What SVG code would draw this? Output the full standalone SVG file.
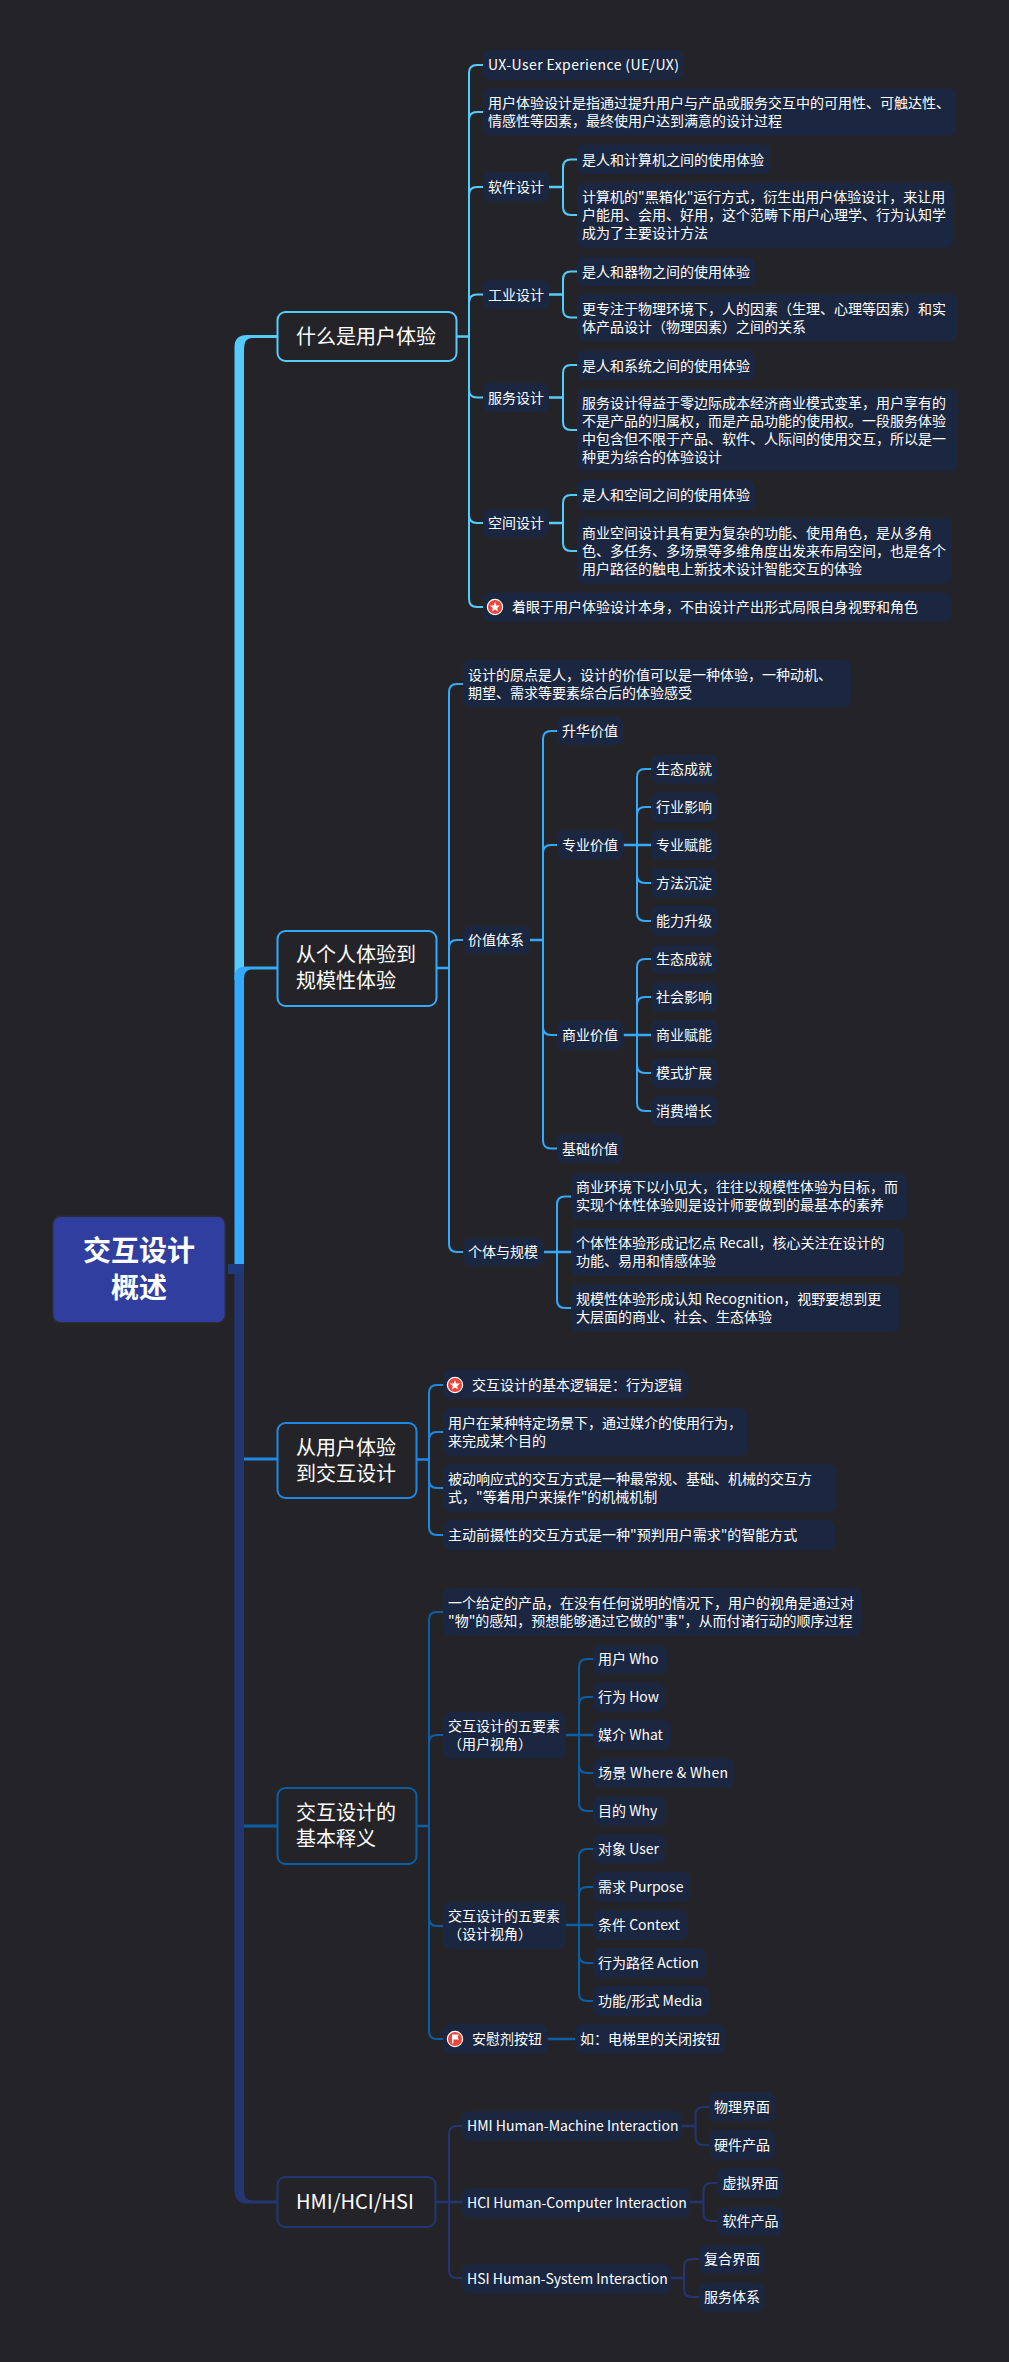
<svg xmlns="http://www.w3.org/2000/svg" width="1009" height="2362" viewBox="0 0 1009 2362">
<style>
text{font-family:"Noto Sans CJK SC","Noto Sans",sans-serif;fill:#fff}
.t{font-size:14px}
.m{font-size:20px}
.r{font-size:28px;font-weight:700;text-anchor:middle}
.n{fill:#1b2740}
.c{fill:none;stroke-width:2;stroke-linecap:butt}
.s{fill:none;stroke-width:2.5}
.b1{stroke:#55ccff}.b2{stroke:#33a9ff}.b3{stroke:#1e88e5}.b4{stroke:#0a5ea5}.b5{stroke:#233672}
.k{fill:#242428;stroke-width:2}
</style>
<defs>
<g id="star"><circle r="7.6" fill="#f04438" stroke="#fff" stroke-width="1.2"/><polygon points="0,-5 1.4,-1.6 5,-1.4 2.2,0.9 3.1,4.4 0,2.5 -3.1,4.4 -2.2,0.9 -5,-1.4 -1.4,-1.6" fill="#fff"/></g>
<g id="flag"><circle r="7.6" fill="#f04438" stroke="#fff" stroke-width="1.2"/><path d="M-3-4.5H4L2.4-2 4 .5H-1.6V4.5H-3Z" fill="#fff"/></g>
</defs>
<rect width="1009" height="2362" fill="#242428"/>
<g id="connectors">
<path d="M234.5 1264V2190Q234.5 2203.5 247 2203.5H277V2200.5H252Q244 2200.5 244 2190V1264Z" fill="#233672"/>
<path d="M277 335H247Q234.5 335 234.5 347V980H244V349Q244 338 252 338H277Z" fill="#55ccff"/>
<path d="M277 966.5H246Q234.5 966.5 234.5 978V1264H244V978Q244 969.5 252 969.5H277Z" fill="#33a9ff"/>
<rect x="228" y="1264" width="15.5" height="10" fill="#1f3a7a"/>
<path d="M244 1457.5H277V1460.5H244Z" fill="#1e88e5"/>
<path d="M244 1824.5H277V1827.5H244Z" fill="#0a5ea5"/>
<path class="s b1" d="M456 336.5H469M549 187H563M549 294.5H563M549 397.5H563M549 523H563"/>
<path class="c b1" d="M483 65H477Q469 65 469 73V599Q469 607 477 607H483M469 120Q469 112 477 112H483M469 195Q469 187 477 187H483M469 302.500Q469 294.5 477 294.5H483M469 389.500Q469 397.5 477 397.5H483M469 515Q469 523 477 523H483"/>
<path class="c b1" d="M577 159.5H571Q563 159.5 563 167.5V207Q563 215 571 215H577"/>
<path class="c b1" d="M577 271.5H571Q563 271.5 563 279.5V309.5Q563 317.5 571 317.5H577"/>
<path class="c b1" d="M577 365H571Q563 365 563 373V422Q563 430 571 430H577"/>
<path class="c b1" d="M577 495H571Q563 495 563 503V543Q563 551 571 551H577"/>
<path class="s b2" d="M436 968H449M530 940H543M623.5 845H651M623.5 1035H651M544 1252H571"/>
<path class="c b2" d="M463 684H457Q449 684 449 692V1244Q449 1252 457 1252H463M449 948Q449 940 457 940H463"/>
<path class="c b2" d="M557 731H551Q543 731 543 739V1140.5Q543 1148.5 551 1148.5H557M543 853Q543 845 551 845H557M543 1027Q543 1035 551 1035H557"/>
<path class="c b2" d="M651 769H645Q637 769 637 777V913Q637 921 645 921H651M637 815Q637 807 645 807H651M637 875Q637 883 645 883H651"/>
<path class="c b2" d="M651 959H645Q637 959 637 967V1103Q637 1111 645 1111H651M637 1005Q637 997 645 997H651M637 1065Q637 1073 645 1073H651"/>
<path class="c b2" d="M571 1196.5H565Q557 1196.5 557 1204.5V1300Q557 1308 565 1308H571"/>
<path class="s b3" d="M416 1459.5H429"/>
<path class="c b3" d="M443 1385H437Q429 1385 429 1393V1527Q429 1535 437 1535H443M429 1440Q429 1432 437 1432H443M429 1480Q429 1488 437 1488H443"/>
<path class="s b4" d="M416 1826H429M566 1735H593M566 1925H593M547.6 2039H575"/>
<path class="c b4" d="M443 1612H437Q429 1612 429 1620V2031Q429 2039 437 2039H443M429 1743Q429 1735 437 1735H443M429 1918Q429 1926 437 1926H443"/>
<path class="c b4" d="M593 1659H587Q579 1659 579 1667V1803Q579 1811 587 1811H593M579 1705Q579 1697 587 1697H593M579 1765Q579 1773 587 1773H593"/>
<path class="c b4" d="M593 1849H587Q579 1849 579 1857V1993Q579 2001 587 2001H593M579 1895Q579 1887 587 1887H593M579 1955Q579 1963 587 1963H593"/>
<path class="s b5" d="M435.6 2202H462M682 2126H695.6M690 2202H703.5M671 2278H684"/>
<path class="c b5" d="M462 2126H457Q449 2126 449 2134V2270Q449 2278 457 2278H462"/>
<path class="c b5" d="M709 2107H703.6Q695.6 2107 695.6 2115V2137Q695.6 2145 703.6 2145H709"/>
<path class="c b5" d="M717.5 2183H711.5Q703.5 2183 703.5 2191V2213Q703.5 2221 711.5 2221H717.5"/>
<path class="c b5" d="M699 2259H692Q684 2259 684 2267V2289Q684 2297 692 2297H699"/>
</g>
<g id="root"><rect x="53.5" y="1217" width="171" height="105" rx="7" fill="#303f9f" stroke="#2c2c31" stroke-width="3" paint-order="stroke"/><text class="r" x="139" y="1260.5">交互设计</text><text class="r" x="139" y="1297.5">概述</text></g>
<g id="b1-main"><rect class="k b1" x="277.5" y="312" width="179" height="49" rx="8"/><text class="m" x="296" y="343.5">什么是用户体验</text></g>
<g id="b1-ux"><rect class="n" x="483" y="50" width="201" height="30" rx="7"/><text class="t" x="488" y="70" textLength="191">UX-User Experience (UE/UX)</text></g>
<g id="b1-desc"><rect class="n" x="483" y="88.5" width="473" height="47" rx="7"/><text class="t" x="488" y="108">用户体验设计是指通过提升用户与产品或服务交互中的可用性、可触达性、</text><text class="t" x="488" y="126">情感性等因素，最终使用户达到满意的设计过程</text></g>
<g id="b1-soft"><rect class="n" x="483" y="172" width="66" height="30" rx="7"/><text class="t" x="488" y="192">软件设计</text></g>
<g id="b1-soft-a"><rect class="n" x="577" y="144.5" width="193" height="29.5" rx="7"/><text class="t" x="582" y="164.5">是人和计算机之间的使用体验</text></g>
<g id="b1-soft-b"><rect class="n" x="577" y="182.5" width="376" height="65.5" rx="7"/><text class="t" x="582" y="202">计算机的"黑箱化"运行方式，衍生出用户体验设计，来让用</text><text class="t" x="582" y="220">户能用、会用、好用，这个范畴下用户心理学、行为认知学</text><text class="t" x="582" y="238">成为了主要设计方法</text></g>
<g id="b1-ind"><rect class="n" x="483" y="280" width="66" height="29" rx="7"/><text class="t" x="488" y="299.5">工业设计</text></g>
<g id="b1-ind-a"><rect class="n" x="577" y="257" width="178" height="29" rx="7"/><text class="t" x="582" y="276.5">是人和器物之间的使用体验</text></g>
<g id="b1-ind-b"><rect class="n" x="577" y="294" width="381" height="47" rx="7"/><text class="t" x="582" y="314">更专注于物理环境下，人的因素（生理、心理等因素）和实</text><text class="t" x="582" y="332">体产品设计（物理因素）之间的关系</text></g>
<g id="b1-svc"><rect class="n" x="483" y="383" width="66" height="29" rx="7"/><text class="t" x="488" y="403">服务设计</text></g>
<g id="b1-svc-a"><rect class="n" x="577" y="350.5" width="178" height="29.5" rx="7"/><text class="t" x="582" y="370.5">是人和系统之间的使用体验</text></g>
<g id="b1-svc-b"><rect class="n" x="577" y="389" width="381" height="82" rx="7"/><text class="t" x="582" y="408">服务设计得益于零边际成本经济商业模式变革，用户享有的</text><text class="t" x="582" y="426">不是产品的归属权，而是产品功能的使用权。一段服务体验</text><text class="t" x="582" y="444">中包含但不限于产品、软件、人际间的使用交互，所以是一</text><text class="t" x="582" y="462">种更为综合的体验设计</text></g>
<g id="b1-spa"><rect class="n" x="483" y="509" width="66" height="28.5" rx="7"/><text class="t" x="488" y="528">空间设计</text></g>
<g id="b1-spa-a"><rect class="n" x="577" y="480" width="178" height="30" rx="7"/><text class="t" x="582" y="500">是人和空间之间的使用体验</text></g>
<g id="b1-spa-b"><rect class="n" x="577" y="518" width="375" height="66" rx="7"/><text class="t" x="582" y="538">商业空间设计具有更为复杂的功能、使用角色，是从多角</text><text class="t" x="582" y="556">色、多任务、多场景等多维角度出发来布局空间，也是各个</text><text class="t" x="582" y="574">用户路径的触电上新技术设计智能交互的体验</text></g>
<g id="b1-note"><rect class="n" x="483" y="592.5" width="469" height="29" rx="7"/><use href="#star" x="495" y="607"/><text class="t" x="512" y="612">着眼于用户体验设计本身，不由设计产出形式局限自身视野和角色</text></g>
<g id="b2-main"><rect class="k b2" x="277.5" y="931" width="159" height="75" rx="8"/><text class="m" x="296" y="962">从个人体验到</text><text class="m" x="296" y="988">规模性体验</text></g>
<g id="b2-origin"><rect class="n" x="463" y="660" width="388" height="47.5" rx="7"/><text class="t" x="468" y="680">设计的原点是人，设计的价值可以是一种体验，一种动机、</text><text class="t" x="468" y="698">期望、需求等要素综合后的体验感受</text></g>
<g id="b2-val"><rect class="n" x="463" y="926" width="67" height="28" rx="7"/><text class="t" x="468" y="945">价值体系</text></g>
<g id="b2-v1"><rect class="n" x="557" y="717" width="66.5" height="28" rx="7"/><text class="t" x="562" y="736">升华价值</text></g>
<g id="b2-v2"><rect class="n" x="557" y="830" width="66.5" height="29.5" rx="7"/><text class="t" x="562" y="850">专业价值</text></g>
<g id="b2-v2a"><rect class="n" x="651" y="755" width="66.5" height="28.5" rx="7"/><text class="t" x="656" y="774">生态成就</text></g>
<g id="b2-v2b"><rect class="n" x="651" y="792" width="66.5" height="30" rx="7"/><text class="t" x="656" y="812">行业影响</text></g>
<g id="b2-v2c"><rect class="n" x="651" y="830" width="66.5" height="30" rx="7"/><text class="t" x="656" y="850">专业赋能</text></g>
<g id="b2-v2d"><rect class="n" x="651" y="868.5" width="66.5" height="29.5" rx="7"/><text class="t" x="656" y="888">方法沉淀</text></g>
<g id="b2-v2e"><rect class="n" x="651" y="906" width="66.5" height="30" rx="7"/><text class="t" x="656" y="926">能力升级</text></g>
<g id="b2-v3"><rect class="n" x="557" y="1020" width="66.5" height="30" rx="7"/><text class="t" x="562" y="1040">商业价值</text></g>
<g id="b2-v3a"><rect class="n" x="651" y="945" width="66.5" height="28.5" rx="7"/><text class="t" x="656" y="964">生态成就</text></g>
<g id="b2-v3b"><rect class="n" x="651" y="982.5" width="66.5" height="29" rx="7"/><text class="t" x="656" y="1002">社会影响</text></g>
<g id="b2-v3c"><rect class="n" x="651" y="1020" width="66.5" height="30" rx="7"/><text class="t" x="656" y="1040">商业赋能</text></g>
<g id="b2-v3d"><rect class="n" x="651" y="1058.5" width="66.5" height="29.5" rx="7"/><text class="t" x="656" y="1078">模式扩展</text></g>
<g id="b2-v3e"><rect class="n" x="651" y="1096" width="66.5" height="30" rx="7"/><text class="t" x="656" y="1116">消费增长</text></g>
<g id="b2-v4"><rect class="n" x="557" y="1134" width="66.5" height="29" rx="7"/><text class="t" x="562" y="1153.5">基础价值</text></g>
<g id="b2-ind"><rect class="n" x="463" y="1238" width="81" height="28" rx="7"/><text class="t" x="468" y="1257">个体与规模</text></g>
<g id="b2-ind-a"><rect class="n" x="571" y="1173" width="336" height="47" rx="7"/><text class="t" x="576" y="1192">商业环境下以小见大，往往以规模性体验为目标，而</text><text class="t" x="576" y="1210">实现个体性体验则是设计师要做到的最基本的素养</text></g>
<g id="b2-ind-b"><rect class="n" x="571" y="1228.5" width="333" height="47.5" rx="7"/><text class="t" x="576" y="1248">个体性体验形成记忆点 Recall，核心关注在设计的</text><text class="t" x="576" y="1266">功能、易用和情感体验</text></g>
<g id="b2-ind-c"><rect class="n" x="571" y="1284.5" width="328" height="47.5" rx="7"/><text class="t" x="576" y="1304">规模性体验形成认知 Recognition，视野要想到更</text><text class="t" x="576" y="1322">大层面的商业、社会、生态体验</text></g>
<g id="b3-main"><rect class="k b3" x="277.5" y="1423" width="139" height="75" rx="8"/><text class="m" x="296" y="1454.5">从用户体验</text><text class="m" x="296" y="1480.5">到交互设计</text></g>
<g id="b3-a"><rect class="n" x="443" y="1370" width="245.5" height="29" rx="7"/><use href="#star" x="455" y="1385"/><text class="t" x="472" y="1390">交互设计的基本逻辑是：行为逻辑</text></g>
<g id="b3-b"><rect class="n" x="443" y="1408" width="304" height="48" rx="7"/><text class="t" x="448" y="1428">用户在某种特定场景下，通过媒介的使用行为，</text><text class="t" x="448" y="1446">来完成某个目的</text></g>
<g id="b3-c"><rect class="n" x="443" y="1464" width="393.5" height="48" rx="7"/><text class="t" x="448" y="1484">被动响应式的交互方式是一种最常规、基础、机械的交互方</text><text class="t" x="448" y="1502">式，"等着用户来操作"的机械机制</text></g>
<g id="b3-d"><rect class="n" x="443" y="1520" width="392" height="30" rx="7"/><text class="t" x="448" y="1540">主动前摄性的交互方式是一种"预判用户需求"的智能方式</text></g>
<g id="b4-main"><rect class="k b4" x="277.5" y="1788" width="139" height="76" rx="8"/><text class="m" x="296" y="1820">交互设计的</text><text class="m" x="296" y="1846">基本释义</text></g>
<g id="b4-a"><rect class="n" x="443" y="1588" width="418" height="48" rx="7"/><text class="t" x="448" y="1608">一个给定的产品，在没有任何说明的情况下，用户的视角是通过对</text><text class="t" x="448" y="1626">"物"的感知，预想能够通过它做的"事"，从而付诸行动的顺序过程</text></g>
<g id="b4-u"><rect class="n" x="443" y="1712" width="123" height="46.5" rx="7"/><text class="t" x="448" y="1731">交互设计的五要素</text><text class="t" x="448" y="1749">（用户视角）</text></g>
<g id="b4-u1"><rect class="n" x="593" y="1645" width="74" height="29" rx="7"/><text class="t" x="598" y="1664">用户 Who</text></g>
<g id="b4-u2"><rect class="n" x="593" y="1682.5" width="72" height="29" rx="7"/><text class="t" x="598" y="1702">行为 How</text></g>
<g id="b4-u3"><rect class="n" x="593" y="1720" width="78" height="29.5" rx="7"/><text class="t" x="598" y="1740">媒介 What</text></g>
<g id="b4-u4"><rect class="n" x="593" y="1758.5" width="141" height="29" rx="7"/><text class="t" x="598" y="1778" textLength="130">场景 Where &amp; When</text></g>
<g id="b4-u5"><rect class="n" x="593" y="1796.5" width="73" height="29" rx="7"/><text class="t" x="598" y="1816">目的 Why</text></g>
<g id="b4-d"><rect class="n" x="443" y="1902" width="123" height="47" rx="7"/><text class="t" x="448" y="1921">交互设计的五要素</text><text class="t" x="448" y="1939">（设计视角）</text></g>
<g id="b4-d1"><rect class="n" x="593" y="1834.5" width="72.5" height="29" rx="7"/><text class="t" x="598" y="1854">对象 User</text></g>
<g id="b4-d2"><rect class="n" x="593" y="1872" width="97" height="30" rx="7"/><text class="t" x="598" y="1892">需求 Purpose</text></g>
<g id="b4-d3"><rect class="n" x="593" y="1910" width="95" height="30" rx="7"/><text class="t" x="598" y="1930">条件 Context</text></g>
<g id="b4-d4"><rect class="n" x="593" y="1948" width="113" height="30" rx="7"/><text class="t" x="598" y="1968">行为路径 Action</text></g>
<g id="b4-d5"><rect class="n" x="593" y="1986" width="117" height="30" rx="7"/><text class="t" x="598" y="2006">功能/形式 Media</text></g>
<g id="b4-p"><rect class="n" x="443" y="2024" width="104.5" height="29.5" rx="7"/><use href="#flag" x="455" y="2039"/><text class="t" x="472" y="2044">安慰剂按钮</text></g>
<g id="b4-p1"><rect class="n" x="575" y="2024" width="151" height="29.5" rx="7"/><text class="t" x="580" y="2044">如：电梯里的关闭按钮</text></g>
<g id="b5-main"><rect class="k b5" x="277.5" y="2177" width="158" height="50" rx="8"/><text class="m" x="296" y="2209">HMI/HCI/HSI</text></g>
<g id="b5-a"><rect class="n" x="462" y="2111" width="220" height="30" rx="7"/><text class="t" x="467" y="2131">HMI Human-Machine Interaction</text></g>
<g id="b5-a1"><rect class="n" x="709" y="2092" width="66" height="29.5" rx="7"/><text class="t" x="714" y="2112">物理界面</text></g>
<g id="b5-a2"><rect class="n" x="709" y="2130" width="66" height="29.5" rx="7"/><text class="t" x="714" y="2150">硬件产品</text></g>
<g id="b5-b"><rect class="n" x="462" y="2188" width="228" height="29.5" rx="7"/><text class="t" x="467" y="2207.5">HCI Human-Computer Interaction</text></g>
<g id="b5-b1"><rect class="n" x="717.5" y="2168" width="65.5" height="29.5" rx="7"/><text class="t" x="722.5" y="2188">虚拟界面</text></g>
<g id="b5-b2"><rect class="n" x="717.5" y="2207" width="65.5" height="28.5" rx="7"/><text class="t" x="722.5" y="2226">软件产品</text></g>
<g id="b5-c"><rect class="n" x="462" y="2264" width="209" height="29.5" rx="7"/><text class="t" x="467" y="2283.5">HSI Human-System Interaction</text></g>
<g id="b5-c1"><rect class="n" x="699" y="2245" width="65.5" height="28.5" rx="7"/><text class="t" x="704" y="2264">复合界面</text></g>
<g id="b5-c2"><rect class="n" x="699" y="2283" width="65.5" height="29" rx="7"/><text class="t" x="704" y="2302">服务体系</text></g>
</svg>
